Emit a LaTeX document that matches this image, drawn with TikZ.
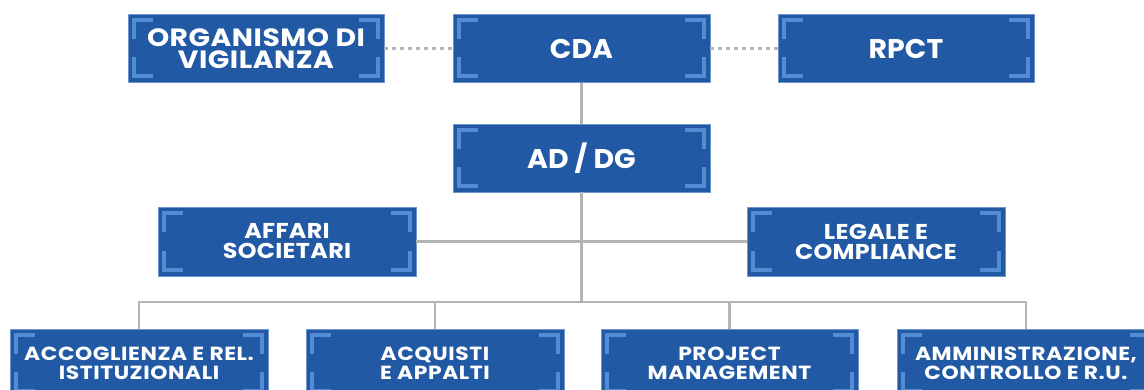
\documentclass[tikz,border=0pt]{standalone}
\usepackage{fontspec}
\newfontfamily\boxfontA{Poppins}[FakeStretch=1.05]
\newfontfamily\boxfontB{Poppins}[FakeStretch=1.11,LetterSpace=1.5]
\newfontfamily\boxfontC{Poppins}[FakeStretch=1.13,LetterSpace=2]
\newfontfamily\boxfontD{Poppins}[FakeStretch=1.15,LetterSpace=3]
\definecolor{boxblue}{RGB}{34,89,164}
\definecolor{boxedge}{RGB}{110,150,205}
\definecolor{brk}{RGB}{82,140,210}
\definecolor{lin}{RGB}{180,180,180}
\tikzset{
  org/.style={draw=boxedge, line width=0.8pt, fill=boxblue, minimum width=257pt, minimum height=68pt,
    inner sep=0pt, text=white, align=center,
    path picture={
      \draw[brk, line width=4pt, line cap=butt, line join=miter]
        ([xshift=6pt,yshift=-25pt]path picture bounding box.north west) -- ([xshift=6pt,yshift=-6pt]path picture bounding box.north west) -- ([xshift=25pt,yshift=-6pt]path picture bounding box.north west);
      \draw[brk, line width=4pt, line cap=butt, line join=miter]
        ([xshift=-6pt,yshift=-25pt]path picture bounding box.north east) -- ([xshift=-6pt,yshift=-6pt]path picture bounding box.north east) -- ([xshift=-25pt,yshift=-6pt]path picture bounding box.north east);
      \draw[brk, line width=4pt, line cap=butt, line join=miter]
        ([xshift=6pt,yshift=25pt]path picture bounding box.south west) -- ([xshift=6pt,yshift=6pt]path picture bounding box.south west) -- ([xshift=25pt,yshift=6pt]path picture bounding box.south west);
      \draw[brk, line width=4pt, line cap=butt, line join=miter]
        ([xshift=-6pt,yshift=25pt]path picture bounding box.south east) -- ([xshift=-6pt,yshift=6pt]path picture bounding box.south east) -- ([xshift=-25pt,yshift=6pt]path picture bounding box.south east);
    }},
  big/.style={font=\boxfontA\bfseries\fontsize{27}{27}\selectfont},
  top/.style={font=\boxfontC\bfseries\fontsize{25}{22}\selectfont},
  mid/.style={font=\boxfontB\bfseries\fontsize{21.5}{20}\selectfont},
  low/.style={font=\boxfontD\bfseries\fontsize{19}{18.7}\selectfont},
  conn/.style={draw=lin, line width=2.5pt},
  dotconn/.style={draw=lin, line width=2.2pt, dash pattern=on 4pt off 4pt}
}
\begin{document}
\begin{tikzpicture}[x=1pt,y=-1pt]
\useasboundingbox (0,0) rectangle (1144,390);
\clip (0,0) rectangle (1144,390);
\node[org, top, minimum width=256pt] (odv) at (256,48.5) {ORGANISMO DI\\VIGILANZA};
\node[org, big] (cda) at (581.5,48.5) {CDA};
\node[org, big, minimum width=256pt] (rpct) at (906,48.5) {RPCT};
\node[org, big] (ad) at (581.5,158) {AD / DG};
\node[org, mid, minimum width=258pt, minimum height=69pt] (aff) at (287,241.5) {AFFARI\\SOCIETARI};
\node[org, mid, minimum width=258pt, minimum height=69pt] (leg) at (876,241.5) {LEGALE E\\COMPLIANCE};
\node[org, low, minimum width=258pt] (acc) at (139,363) {ACCOGLIENZA E REL.\\ISTITUZIONALI};
\node[org, low, minimum width=258pt] (acq) at (435,363) {ACQUISTI\\E APPALTI};
\node[org, low] (pm) at (729.5,363) {PROJECT\\MANAGEMENT};
\node[org, low, minimum width=258pt] (amm) at (1026,363) {AMMINISTRAZIONE,\\CONTROLLO E R.U.};
\coordinate (bus) at (581.5,302);
\path[dotconn] (odv.east) -- (cda.west);
\path[dotconn] (cda.east) -- (rpct.west);
\path[conn] (cda.south) -- (ad.north);
\path[conn] (ad.south) -- (bus);
\path[conn] (aff.east) -- (leg.west);
\path[conn] (acc.north) -- (acc.north |- bus) -- (amm.north |- bus) -- (amm.north);
\path[conn] (acq.north) -- (acq.north |- bus);
\path[conn] (pm.north) -- (pm.north |- bus);
\end{tikzpicture}
\end{document}
